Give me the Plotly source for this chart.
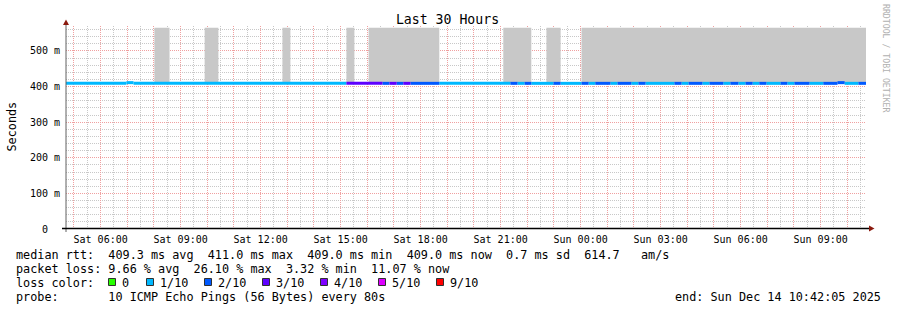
import plotly.graph_objects as go
import pandas as pd

# ---------------- data ----------------
title_text = "Last 30 Hours"
y_title = "Seconds"
x_start = "2025-12-13 04:42:05"
x_end = "2025-12-14 10:42:05"

# median rtt segments (edges, loss level in tenths, median in ms)
seg_edges = [
    "2025-12-13 04:42:05", "2025-12-13 06:58", "2025-12-13 07:14", "2025-12-13 15:13",
    "2025-12-13 16:34", "2025-12-13 16:50", "2025-12-13 17:06", "2025-12-13 17:21",
    "2025-12-13 17:37", "2025-12-13 18:42", "2025-12-13 21:22", "2025-12-13 21:38",
    "2025-12-13 21:54", "2025-12-13 22:09", "2025-12-13 22:59", "2025-12-13 23:15",
    "2025-12-14 00:02", "2025-12-14 00:18", "2025-12-14 00:33", "2025-12-14 01:07",
    "2025-12-14 01:23", "2025-12-14 01:54", "2025-12-14 02:10", "2025-12-14 02:26",
    "2025-12-14 03:31", "2025-12-14 03:47", "2025-12-14 04:03", "2025-12-14 04:34",
    "2025-12-14 04:50", "2025-12-14 05:21", "2025-12-14 05:37", "2025-12-14 05:55",
    "2025-12-14 06:11", "2025-12-14 06:27", "2025-12-14 06:42", "2025-12-14 06:58",
    "2025-12-14 07:30", "2025-12-14 07:45", "2025-12-14 08:01", "2025-12-14 08:35",
    "2025-12-14 09:06", "2025-12-14 09:38", "2025-12-14 09:54", "2025-12-14 10:25",
    "2025-12-14 10:42:05",
]
seg_loss = [
    1, 1, 1, 3, 2, 3, 2, 3, 2, 1, 2, 1, 2, 1, 2, 1,
    2, 1, 2, 1, 2, 1, 2, 1, 2, 1, 2, 1, 2, 1, 2, 1,
    2, 1, 2, 1, 2, 1, 2, 1, 2, 2, 1, 2,
]
seg_median_ms = [
    409.0, 411.0, 409.0, 409.0, 409.0, 409.0, 409.0, 409.0, 409.0, 409.0, 409.0, 409.0,
    409.0, 409.0, 409.0, 409.0, 409.0, 409.0, 409.0, 409.0, 409.0, 409.0, 409.0, 409.0,
    409.0, 409.0, 409.0, 409.0, 409.0, 409.0, 409.0, 409.0, 409.0, 409.0, 409.0, 409.0,
    409.0, 409.0, 409.0, 409.0, 409.0, 411.0, 409.0, 409.0,
]

# grey smoke periods
smoke_start = ["2025-12-13 08:01", "2025-12-13 09:54", "2025-12-13 12:49", "2025-12-13 15:13",
               "2025-12-13 16:03", "2025-12-13 21:06", "2025-12-13 22:43", "2025-12-14 00:02"]
smoke_end = ["2025-12-13 08:35", "2025-12-13 10:25", "2025-12-13 13:07", "2025-12-13 15:31",
             "2025-12-13 18:42", "2025-12-13 22:09", "2025-12-13 23:15", "2025-12-14 10:42:05"]
smoke_low_ms = 409.0
smoke_high_ms = 565.0

loss_levels = [0, 1, 2, 3, 4, 5, 9]
loss_labels = ["0", "1/10", "2/10", "3/10", "4/10", "5/10", "9/10"]
loss_colors = ["#26ff00", "#00b8ff", "#0059ff", "#5e00ff", "#7e00ff", "#dd00ff", "#ff0000"]

y_tick_ms = [0, 100, 200, 300, 400, 500]
y_tick_text = ["0\u00a0\u00a0", "100\u00a0m", "200\u00a0m", "300\u00a0m", "400\u00a0m", "500\u00a0m"]
y_max_ms = 570.0

rtt_stats = [409.3, 411.0, 409.0, 409.0]   # avg max min now
rtt_sd = 0.7
rtt_ams = 614.7
loss_stats = [9.66, 26.10, 3.32, 11.07]   # avg max min now
probe_text = "10 ICMP Echo Pings (56 Bytes) every 80s"
end_text = "end: Sun Dec 14 10:42:05 2025"
watermark = "RRDTOOL / TOBI OETIKER"

# ---------------- figure ----------------
FONT = "DejaVu Sans Mono"
W, H = 897, 310
PL, PR, PT, PB = 66, 866, 26, 229


def px(x):
    return (x - PL) / (PR - PL)


def py(y):
    return (PB - y) / (PB - PT)


def nb(s):
    return s.replace(" ", "\u00a0")


fig = go.Figure()

# smoke
sx, sy = [], []
for s, e in zip(smoke_start, smoke_end):
    sx += [s, e, e, s, s, None]
    lo, hi = smoke_low_ms / 1000, smoke_high_ms / 1000
    sy += [lo, lo, hi, hi, lo, None]
fig.add_trace(go.Scatter(x=sx, y=sy, mode="lines", fill="toself",
                         fillcolor="#c8c8c8", line=dict(width=0, color="#c8c8c8"),
                         hoverinfo="skip", showlegend=False))

# median line coloured by loss
for lvl, col in zip(loss_levels, loss_colors):
    lx, ly = [], []
    for i, l in enumerate(seg_loss):
        if l == lvl:
            v = seg_median_ms[i] / 1000
            lx += [seg_edges[i], seg_edges[i + 1], None]
            ly += [v, v, None]
    if lx:
        fig.add_trace(go.Scatter(x=lx, y=ly, mode="lines",
                                 line=dict(color=col, width=3),
                                 hoverinfo="skip", showlegend=False))

# x ticks
hours = pd.date_range("2025-12-13 05:00", "2025-12-14 10:00", freq="h")
x_tick_vals = [h.strftime("%Y-%m-%d %H:%M") for h in hours]
x_tick_text = [h.strftime("%a %H:%M") if h.hour % 3 == 0 else "" for h in hours]

MAJ = "#f0a0a0"
MIN = "#c8c8c8"
DASH = "1px,1px"

fig.update_xaxes(
    range=[x_start, x_end], type="date",
    tickvals=x_tick_vals, ticktext=x_tick_text,
    showgrid=True, gridcolor=MAJ, griddash=DASH, gridwidth=1,
    minor=dict(dtick=30 * 60 * 1000, tick0="2025-12-13 00:30", showgrid=True,
               gridcolor=MIN, griddash=DASH, gridwidth=1, ticks=""),
    showline=False, zeroline=False, ticks="",
    tickfont=dict(family=FONT, size=10, color="#000000"),
    ticklabelstandoff=3,
)
fig.update_yaxes(
    range=[0, y_max_ms / 1000],
    tickvals=[v / 1000 for v in y_tick_ms], ticktext=y_tick_text,
    showgrid=True, gridcolor=MAJ, griddash=DASH, gridwidth=1,
    minor=dict(dtick=0.02, tick0=0, showgrid=True, gridcolor=MIN, griddash=DASH,
               gridwidth=1, ticks=""),
    showline=False, zeroline=False, ticks="",
    tickfont=dict(family=FONT, size=10, color="#000000"),
    ticklabelstandoff=5,
)

shapes = []
# axis lines
shapes.append(dict(type="line", xref="paper", yref="paper", x0=px(66), x1=px(66),
                   y0=py(232), y1=py(23), line=dict(color="#606060", width=1)))
shapes.append(dict(type="line", xref="paper", yref="paper", x0=px(62), x1=px(869),
                   y0=py(228.5), y1=py(228.5), line=dict(color="#000000", width=1.5)))
# arrows
shapes.append(dict(type="path", xref="paper", yref="paper",
                   path=f"M {px(63)} {py(25)} L {px(69)} {py(25)} L {px(66)} {py(19.5)} Z",
                   fillcolor="#8b1a0e", line=dict(width=0)))
shapes.append(dict(type="path", xref="paper", yref="paper",
                   path=f"M {px(869)} {py(225.5)} L {px(869)} {py(231.5)} L {px(874.5)} {py(228.5)} Z",
                   fillcolor="#8b1a0e", line=dict(width=0)))

annotations = []
LF = dict(family=FONT, size=11.8, color="#000000")


def add_text(x, y, text, anchor="left", font=LF):
    annotations.append(dict(xref="paper", yref="paper", x=px(x), y=py(y), text=nb(text),
                            showarrow=False, xanchor=anchor, yanchor="middle", font=font,
                            borderpad=0, borderwidth=0))


row1 = ("median rtt:  %.1f ms avg  %.1f ms max  %.1f ms min  %.1f ms now  %.1f ms sd  %.1f   am/s"
        % (rtt_stats[0], rtt_stats[1], rtt_stats[2], rtt_stats[3], rtt_sd, rtt_ams))
row2 = ("packet loss: %.2f %% avg  %.2f %% max  %.2f %% min  %.2f %% now"
        % tuple(loss_stats))
add_text(15.5, 255, row1)
add_text(15.5, 268.5, row2)
add_text(15.5, 282.5, "loss color:")
box_x = [108, 146, 204, 262, 320, 378, 436]
for bx, lab, col in zip(box_x, loss_labels, loss_colors):
    shapes.append(dict(type="rect", xref="paper", yref="paper",
                       x0=px(bx + 0.5), x1=px(bx + 7.5), y0=py(285.5), y1=py(278.5),
                       fillcolor=col, line=dict(color="#303030", width=1)))
    add_text(bx + 13.5, 282.5, lab)
add_text(15.5, 296.5, "probe:       " + probe_text)
add_text(881.5, 296.5, end_text, anchor="right")

# y-axis title
annotations.append(dict(xref="paper", yref="paper", x=px(11), y=py(126.5), text=y_title,
                        showarrow=False, textangle=-90, xanchor="center", yanchor="middle",
                        font=dict(family=FONT, size=11.8, color="#000000")))
# watermark
annotations.append(dict(xref="paper", yref="paper", x=px(886), y=py(59), text=nb(watermark),
                        showarrow=False, textangle=90, xanchor="center", yanchor="middle",
                        font=dict(family=FONT, size=8.2, color="#b0b0b0")))

fig.update_layout(
    width=W, height=H, autosize=False,
    margin=dict(l=PL, r=W - PR, t=PT, b=H - PB, pad=0),
    paper_bgcolor="#ffffff", plot_bgcolor="#ffffff",
    title=dict(text=title_text, x=447.5 / W, y=1 - 19.5 / H, xanchor="center",
               yanchor="middle", xref="container", yref="container",
               font=dict(family=FONT, size=13.2, color="#000000")),
    shapes=shapes, annotations=annotations, showlegend=False,
)

fig.write_html("out.html")
